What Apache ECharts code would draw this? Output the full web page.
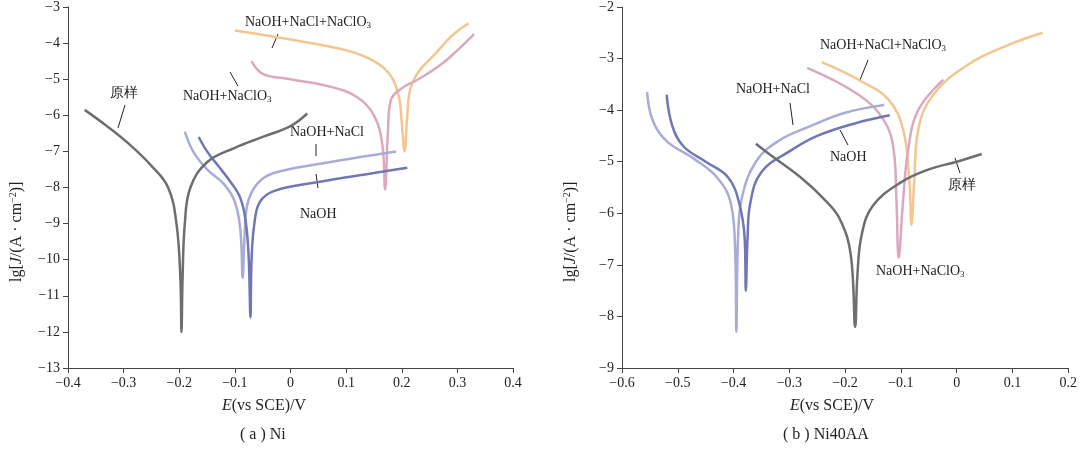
<!DOCTYPE html><html><head><meta charset="utf-8"><script src="https://cdn.jsdelivr.net/npm/echarts@6/dist/echarts.min.js"></script></head><body style="margin:0"><div id="c" style="width:1080px;height:451px"></div><script>
const aRaw=[[-0.37,-5.85],[-0.33,-6.3],[-0.29,-6.8],[-0.25,-7.4],[-0.22,-8.0],[-0.205,-9],[-0.198,-10.5],[-0.196,-12],[-0.194,-10.5],[-0.19,-9],[-0.18,-8],[-0.15,-7.3],[-0.1,-6.9],[-0.05,-6.6],[0,-6.3],[0.03,-5.95]];
const aNaOH=[[-0.165,-6.6],[-0.15,-7.0],[-0.13,-7.4],[-0.11,-7.8],[-0.09,-8.3],[-0.08,-9],[-0.075,-10],[-0.072,-11.6],[-0.07,-10],[-0.065,-9],[-0.055,-8.4],[-0.03,-8.1],[0.05,-7.85],[0.15,-7.6],[0.21,-7.45]];
const aNaCl=[[-0.19,-6.45],[-0.175,-7.0],[-0.15,-7.5],[-0.12,-7.9],[-0.1,-8.4],[-0.09,-9.2],[-0.086,-10.5],[-0.083,-9.5],[-0.078,-8.5],[-0.06,-7.9],[-0.03,-7.6],[0.05,-7.35],[0.19,-7.0]];
const aClO3=[[-0.07,-4.5],[-0.05,-4.85],[0,-5.0],[0.07,-5.2],[0.12,-5.5],[0.15,-6.0],[0.165,-6.8],[0.17,-8.05],[0.175,-6.5],[0.18,-5.6],[0.2,-5.25],[0.23,-5.0],[0.27,-4.6],[0.3,-4.2],[0.33,-3.75]];
const aAll=[[-0.1,-3.65],[0,-3.9],[0.1,-4.2],[0.15,-4.5],[0.18,-4.9],[0.195,-5.5],[0.2,-6.2],[0.205,-7.0],[0.21,-6.0],[0.215,-5.3],[0.23,-4.8],[0.26,-4.3],[0.29,-3.8],[0.32,-3.45]];
const bRaw=[[-0.36,-4.65],[-0.33,-4.9],[-0.28,-5.3],[-0.24,-5.7],[-0.21,-6.1],[-0.19,-6.8],[-0.182,-8.2],[-0.178,-7.2],[-0.17,-6.4],[-0.15,-5.85],[-0.1,-5.4],[-0.05,-5.15],[0,-5.0],[0.045,-4.85]];
const bNaOH=[[-0.52,-3.7],[-0.51,-4.3],[-0.49,-4.7],[-0.45,-5.0],[-0.41,-5.3],[-0.39,-5.8],[-0.38,-6.5],[-0.378,-7.5],[-0.375,-6.5],[-0.37,-5.8],[-0.35,-5.2],[-0.3,-4.8],[-0.25,-4.5],[-0.18,-4.25],[-0.12,-4.1]];
const bNaCl=[[-0.555,-3.65],[-0.545,-4.2],[-0.52,-4.6],[-0.47,-4.95],[-0.43,-5.3],[-0.405,-5.8],[-0.397,-6.8],[-0.395,-8.3],[-0.392,-6.5],[-0.385,-5.7],[-0.36,-5.0],[-0.32,-4.6],[-0.26,-4.3],[-0.2,-4.05],[-0.13,-3.9]];
const bClO3=[[-0.268,-3.18],[-0.176,-3.7],[-0.131,-4.19],[-0.113,-4.77],[-0.108,-5.74],[-0.104,-6.86],[-0.096,-5.74],[-0.087,-4.77],[-0.069,-4.0],[-0.024,-3.41]];
const bAll=[[-0.242,-3.07],[-0.176,-3.41],[-0.122,-3.8],[-0.096,-4.38],[-0.085,-5.35],[-0.081,-6.22],[-0.076,-5.35],[-0.069,-4.38],[-0.042,-3.7],[0.02,-3.12],[0.092,-2.74],[0.154,-2.5]];
const C={raw:'#6d6e71',naoh:'#7077b5',nacl:'#a9acd6',clo3:'#dba9bf',all:'#f3c68f'};
const F='Liberation Serif';
const ts={fontFamily:F,fontSize:14,color:'#222'};
function ax(min,max,iv,gi){return {type:'value',gridIndex:gi,min,max,interval:iv,axisLine:{onZero:false,lineStyle:{color:'#444'}},axisTick:{lineStyle:{color:'#444'}},splitLine:{show:false},axisLabel:Object.assign({},ts,{formatter:v=>(v<0?'−':'')+Math.abs(+v.toFixed(2))})};}
function ser(d,c,i){return {type:'line',data:d,xAxisIndex:i,yAxisIndex:i,smooth:0.4,showSymbol:false,lineStyle:{color:C[c],width:2.5},z:c==='raw'?3:2};}
const xa=[ax(-0.4,0.4,0.1,0),ax(-0.6,0.2,0.1,1)];
const ya=[ax(-13,-3,1,0),ax(-9,-2,1,1)];
const RS={sub:{fontSize:9,fontFamily:F,fill:'#222',padding:[7,0,0,0]},n:{fontSize:14,fontFamily:F,fill:'#222'},i:{fontSize:16,fontFamily:F,fontStyle:'italic',fill:'#222'},m:{fontSize:16,fontFamily:F,fill:'#222'},sup:{fontSize:10,fontFamily:F,fill:'#222',padding:[0,0,8,0]}};
function R(x,y,t,rot){const o={type:'text',x,y,style:{text:t,rich:RS}};if(rot){o.rotation=Math.PI/2;}return o;}
function L(x1,y1,x2,y2){return {type:'line',shape:{x1,y1,x2,y2},style:{stroke:'#222',lineWidth:1}};}
const g=[
 R(245,14,'{n|NaOH+NaCl+NaClO}{sub|3}'),L(278,34,272,48),
 R(183,88,'{n|NaOH+NaClO}{sub|3}'),L(238,86,230,72),
 R(110,86,'{n|原样}'),L(125,105,118,128),
 R(290,125,'{n|NaOH+NaCl}'),L(316,144,316,156),
 R(300,207,'{n|NaOH}'),L(318,188,316,174),
 R(820,37,'{n|NaOH+NaCl+NaClO}{sub|3}'),L(868,60,860,80),
 R(736,82,'{n|NaOH+NaCl}'),L(790,103,793,125),
 R(830,150,'{n|NaOH}'),L(848,145,840,130),
 R(948,178,'{n|原样}'),L(960,173,955,158),
 R(876,263,'{n|NaOH+NaClO}{sub|3}'),
 R(222,398,'{i|E}{m|(vs SCE)/V}'),
 R(790,398,'{i|E}{m|(vs SCE)/V}'),
 R(240,427,'{m|( a ) Ni}'),
 R(783,427,'{m|( b ) Ni40AA}'),
];
const y1={type:'text',x:8,y:282,rotation:Math.PI/2,style:{text:'{m|lg[}{i|J}{m|/(A · cm}{sup|−2}{m|)]}',rich:RS}};
const y2=Object.assign({},y1,{x:562});
g.push(y1,y2);
const chart=echarts.init(document.getElementById('c'));
chart.setOption({animation:false,
 grid:[{left:68,top:7,width:445,height:361},{left:622,top:7,width:449,height:361}],
 xAxis:xa,yAxis:ya,
 series:[ser(aAll,'all',0),ser(aClO3,'clo3',0),ser(aNaCl,'nacl',0),ser(aNaOH,'naoh',0),ser(aRaw,'raw',0),
  ser(bAll,'all',1),ser(bClO3,'clo3',1),ser(bNaCl,'nacl',1),ser(bNaOH,'naoh',1),ser(bRaw,'raw',1)],
 graphic:g});
</script></body></html>
